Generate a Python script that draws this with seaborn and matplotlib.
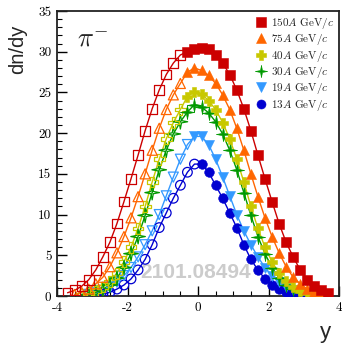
import numpy as np
import pandas as pd
import matplotlib
matplotlib.use("Agg")
import matplotlib.pyplot as plt
import seaborn as sns
from matplotlib.lines import Line2D
from matplotlib.path import Path

# ---------------- data ----------------
energies = ["150", "75", "40", "30", "19", "13"]
legend_labels = [r"150$A$ GeV/$c$", r"75$A$ GeV/$c$", r"40$A$ GeV/$c$",
                 r"30$A$ GeV/$c$", r"19$A$ GeV/$c$", r"13$A$ GeV/$c$"]

y_150 = [-0.3, -0.1, 0.1, 0.3, 0.5, 0.7, 0.9, 1.1, 1.3, 1.5, 1.7, 1.9, 2.1, 2.3, 2.5, 2.7, 2.9, 3.1, 3.3, 3.5, 3.7]
v_150 = [30.0, 30.3, 30.4, 30.3, 29.6, 28.6, 27.2, 25.3, 23.0, 20.3, 17.3, 14.4, 11.6, 8.9, 6.6, 4.8, 3.2, 2.0, 1.2, 0.7, 0.4]

y_75 = [-0.3, -0.1, 0.1, 0.3, 0.5, 0.7, 0.9, 1.1, 1.3, 1.5, 1.7, 1.9, 2.1, 2.3, 2.5, 2.7, 2.9, 3.1, 3.3, 3.5]
v_75 = [27.5, 28.0, 27.7, 27.1, 26.1, 24.7, 22.9, 20.6, 17.9, 15.0, 12.2, 9.6, 7.3, 5.3, 3.6, 2.3, 1.5, 0.85, 0.45, 0.2]

y_40 = [-0.3, -0.1, 0.1, 0.3, 0.5, 0.7, 0.9, 1.1, 1.3, 1.5, 1.7, 1.9, 2.1, 2.3, 2.5, 2.7, 2.9, 3.1, 3.3]
v_40 = [24.5, 25.1, 24.8, 24.0, 22.9, 21.3, 19.3, 16.8, 14.0, 11.0, 8.3, 6.0, 4.2, 2.8, 1.8, 1.1, 0.6, 0.35, 0.15]

y_30 = [-0.3, -0.1, 0.1, 0.3, 0.5, 0.7, 0.9, 1.1, 1.3, 1.5, 1.7, 1.9, 2.1, 2.3, 2.5, 2.7, 2.9, 3.1]
v_30 = [22.6, 23.5, 23.2, 22.5, 21.4, 19.9, 17.9, 15.5, 12.7, 9.9, 7.3, 5.2, 3.5, 2.2, 1.35, 0.8, 0.45, 0.2]

y_19 = [-0.1, 0.1, 0.3, 0.5, 0.7, 0.9, 1.1, 1.3, 1.5, 1.7, 1.9, 2.1, 2.3, 2.5, 2.7, 2.9, 3.1]
v_19 = [19.6, 19.6, 18.6, 16.8, 14.6, 12.3, 10.0, 8.0, 6.3, 4.8, 3.5, 2.5, 1.7, 1.1, 0.7, 0.4, 0.2]

y_13 = [0.1, 0.3, 0.5, 0.7, 0.9, 1.1, 1.3, 1.5, 1.7, 1.9, 2.1, 2.3, 2.5, 2.7, 2.9]
v_13 = [16.2, 15.2, 13.6, 12.0, 10.2, 8.4, 6.3, 4.5, 3.2, 2.1, 1.35, 0.85, 0.45, 0.22, 0.1]

xtick_vals = [-4, -2, 0, 2, 4]
xtick_labels = ["-4", "-2", "0", "2", "4"]
ytick_vals = [0, 5, 10, 15, 20, 25, 30, 35]
ytick_labels = ["0", "5", "10", "15", "20", "25", "30", "35"]

series_y = [y_150, y_75, y_40, y_30, y_19, y_13]
series_v = [v_150, v_75, v_40, v_30, v_19, v_13]

# ---------------- styles ----------------
# thin four-pointed star marker
_r_in = 0.22
_ang = np.deg2rad(np.arange(0, 360, 45) + 90)
_rad = np.array([1.0, _r_in] * 4)
_verts = np.column_stack([_rad * np.cos(_ang), _rad * np.sin(_ang)])
_verts = np.vstack([_verts, _verts[:1]])
star4 = Path(_verts, [Path.MOVETO] + [Path.LINETO] * 7 + [Path.CLOSEPOLY])

colors = ["#cc0000", "#ff6600", "#c8c800", "#009900", "#3399ff", "#0000d0"]
markers = ["s", "^", "P", star4, "v", "o"]
sizes = [50, 52, 60, 110, 52, 48]

sns.set_theme(style="white")
plt.rcParams["font.family"] = ["cmr10", "DejaVu Serif"]
plt.rcParams["mathtext.fontset"] = "cm"
plt.rcParams["axes.unicode_minus"] = False

fig = plt.figure(figsize=(3.42, 3.45), dpi=100)
ax = fig.add_axes([57 / 342, 1 - 296 / 345, 282 / 342, 285 / 345])

frames = []
for e, ys, vs in zip(energies, series_y, series_v):
    ys = np.asarray(ys, float)
    vs = np.asarray(vs, float)
    filled = pd.DataFrame({"y": ys, "v": vs, "kind": "measured"})
    mask = np.array([(yy > 0) and not np.any(np.isclose(ys, -yy)) for yy in ys])
    refl = pd.DataFrame({"y": -ys[mask], "v": vs[mask], "kind": "reflected"})
    d = pd.concat([filled, refl]).sort_values("y")
    d["energy"] = e
    frames.append(d)

for i in reversed(range(len(energies))):
    d = frames[i]
    c = colors[i]
    sns.lineplot(data=d, x="y", y="v", ax=ax, color=c, lw=1.0, sort=True,
                 estimator=None, legend=False)
    meas = d[d.kind == "measured"]
    refl = d[d.kind == "reflected"]
    sns.scatterplot(data=refl, x="y", y="v", ax=ax, marker=markers[i], s=sizes[i],
                    facecolor="none", edgecolor=c, linewidth=0.9, legend=False, zorder=3)
    sns.scatterplot(data=meas, x="y", y="v", ax=ax, marker=markers[i], s=sizes[i],
                    color=c, edgecolor=c, linewidth=0.4, legend=False, zorder=4)

ax.set_xlim(-4, 4)
ax.set_ylim(0, 35)
ax.set_xticks(xtick_vals)
ax.set_xticklabels(xtick_labels, fontsize=9.5)
ax.set_yticks(ytick_vals)
ax.set_yticklabels(ytick_labels, fontsize=9.5)
ax.set_xticks(np.arange(-4, 4.01, 0.5), minor=True)
ax.set_yticks(np.arange(0, 35.01, 1), minor=True)
ax.tick_params(axis="both", which="both", direction="in", top=False, right=False,
               left=True, bottom=True, colors="black")
ax.tick_params(axis="both", which="major", length=7, width=1.0, pad=4)
ax.tick_params(axis="both", which="minor", length=3.5, width=0.8)
for sp in ax.spines.values():
    sp.set_color("#222222")
    sp.set_linewidth(1.3)
ax.set_xlabel("")
ax.set_ylabel("")
ax.grid(False)

fig.text(17.5 / 342, 1 - 25 / 345, "dn/dy", rotation=90, ha="center", va="top",
         fontsize=14.5, family="Liberation Sans")
fig.text(331 / 342, 1 - 338 / 345, "y", ha="right", va="baseline",
         fontsize=16, family="Liberation Sans")

ax.text(0.07, 0.875, r"$\pi^{-}$", transform=ax.transAxes, fontsize=19,
        ha="left", va="baseline")
ax.text(0.493, 0.084, "2101.08494", transform=ax.transAxes, fontsize=15,
        family="Liberation Sans", weight="bold", color="#cccccc",
        ha="center", va="center", zorder=0)

handles = [Line2D([], [], linestyle="none", marker=markers[i], color=colors[i],
                  markersize=6.5 if i != 3 else 9, markeredgewidth=0.4)
           for i in range(len(energies))]
ax.legend(handles, legend_labels, loc="upper right", frameon=False, fontsize=8,
          handlelength=0.8, handletextpad=0.45, labelspacing=0.12,
          borderaxespad=0.15, borderpad=0.3, bbox_to_anchor=(1.0, 1.0))

fig.savefig("out.png", dpi=100)
